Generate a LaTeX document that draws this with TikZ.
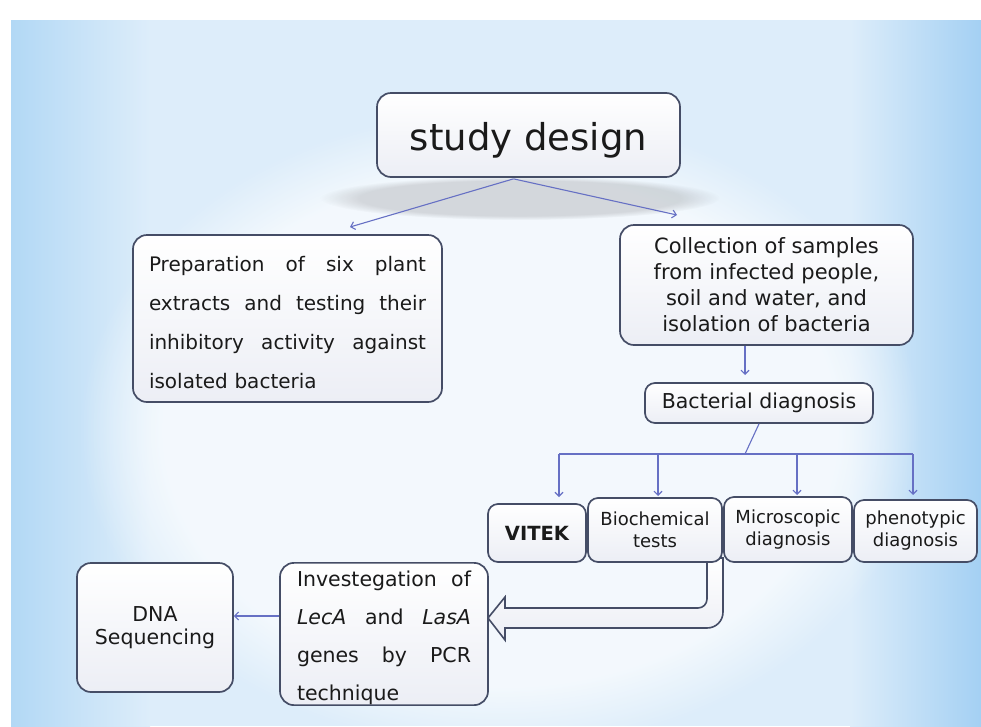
\documentclass[tikz,border=0pt]{standalone}
\usepackage{fontspec}
\setmainfont{DejaVu Sans}
\usetikzlibrary{arrows.meta,calc,fadings}
\definecolor{bgL}{HTML}{B2D8F5}
\definecolor{bgM}{HTML}{DDEDFA}
\definecolor{bgR}{HTML}{A4D0F3}
\definecolor{boxline}{HTML}{454D66}
\definecolor{boxbot}{HTML}{ECEEF5}
\definecolor{arrowc}{HTML}{6670C4}
\definecolor{textc}{HTML}{1A1A1A}
\begin{document}
\begin{tikzpicture}[x=1pt,y=-1pt,
  box/.style={draw=boxline, line width=1.7pt, rounded corners=14pt, top color=white, bottom color=boxbot, inner sep=0pt, text=textc},
  sbox/.style={box, rounded corners=10pt},
  conn/.style={draw=arrowc, line width=1.1pt, -{Straight Barb[length=4pt,width=8pt]}},
  plainline/.style={draw=arrowc, line width=1.1pt},
  barrow/.style={draw=boxline, line width=1.6pt, top color=white, bottom color=boxbot}
  ]
\useasboundingbox (0,0) rectangle (981,726);
\fill[white] (0,0) rectangle (981,726);
% background panel
\fill[bgM] (150,20) rectangle (850,726);
\shade[left color=bgL, right color=bgM] (11,20) rectangle (150,726);
\shade[left color=bgM, right color=bgR] (850,20) rectangle (981,726);
\fill[white, opacity=0.65, path fading=circle with fuzzy edge 20 percent] (500,430) ellipse [x radius=420pt, y radius=320pt];
% shadow under title
\fill[black, opacity=0.13, path fading=circle with fuzzy edge 20 percent] (520,198) ellipse [x radius=200pt, y radius=22pt];
% block arrow
\path[barrow] (707,558) -- (707,599) .. controls (707,604) and (703,608) .. (698,608) -- (505,608) -- (505,597) -- (488,618) -- (505,640) -- (505,628) -- (707,628) .. controls (716,628) and (723,621) .. (723,612) -- (723,558) -- cycle;

% nodes
\node[box, minimum width=303pt, minimum height=84pt, text height=30pt, text depth=0pt, font=\fontsize{37}{44}\selectfont] (sd) at (528.5,135) {study design};
\node[box, minimum width=309pt, minimum height=167pt, inner xsep=16pt, text width=277pt, align=left, font=\fontsize{20}{39}\selectfont] (prep) at (287.5,318.5)
 {\rule{0pt}{24pt}Preparation\hfill of\hfill six\hfill plant\\ extracts\hfill and\hfill testing\hfill their\\ inhibitory\hfill activity\hfill against\\ isolated bacteria};
\node[box, minimum width=293pt, minimum height=120pt, align=center, font=\fontsize{21}{26}\selectfont] (coll) at (766.5,285)
 {Collection of samples\\ from infected people,\\ soil and water, and\\ isolation of bacteria};
\node[sbox, minimum width=228pt, minimum height=40pt, font=\fontsize{20.5}{24}\selectfont] (bact) at (759,403) {Bacterial diagnosis};
\node[sbox, minimum width=98pt, minimum height=58pt, font=\bfseries\fontsize{19.5}{24}\selectfont] (vitek) at (537,533) {VITEK};
\node[sbox, minimum width=134pt, minimum height=64pt, align=center, font=\fontsize{18}{22}\selectfont] (bio) at (655,530) {Biochemical\\ tests};
\node[sbox, minimum width=128pt, minimum height=65pt, align=center, font=\fontsize{18}{22}\selectfont] (mic) at (788,529.5) {Microscopic\\ diagnosis};
\node[sbox, minimum width=123pt, minimum height=62pt, align=center, font=\fontsize{18}{22}\selectfont] (phen) at (915.5,531) {phenotypic\\ diagnosis};
\node[box, minimum width=208pt, minimum height=142pt, inner xsep=17pt, text width=174pt, align=left, font=\fontsize{20.5}{38}\selectfont] (inv) at (384,634)
 {\rule{0pt}{24pt}Investegation\hfill of\\ \textit{LecA}\hfill and\hfill \textit{LasA}\\ genes\hfill by\hfill PCR\\ technique};
\node[box, minimum width=156pt, minimum height=129pt, align=center, font=\fontsize{20.5}{23}\selectfont] (dna) at (155,627.5) {DNA\\ Sequencing};

% connectors
\coordinate (p1) at (350,227);
\coordinate (p2) at (677,215);
\coordinate (p3) at (745,375);
\coordinate (hub) at (745,454);
\coordinate (t1) at (559,497);
\coordinate (t2) at (658,496);
\coordinate (t3) at (797,495);
\coordinate (t4) at (913,495);
\coordinate (ly) at (0,616);
\draw[conn] ($(sd.south)+(-15,1)$) -- (p1);
\draw[conn] ($(sd.south)+(-15,1)$) -- (p2);
\draw[conn] (coll.south -| p3) -- (p3);
\draw[plainline] (bact.south) -- (hub);
\draw[plainline] (hub -| t1) -- (hub -| t4);
\draw[conn] (hub -| t1) -- (t1);
\draw[conn] (hub -| t2) -- (t2);
\draw[conn] (hub -| t3) -- (t3);
\draw[conn] (hub -| t4) -- (t4);
\draw[conn] (inv.west |- ly) -- (dna.east |- ly);
\end{tikzpicture}
\end{document}
